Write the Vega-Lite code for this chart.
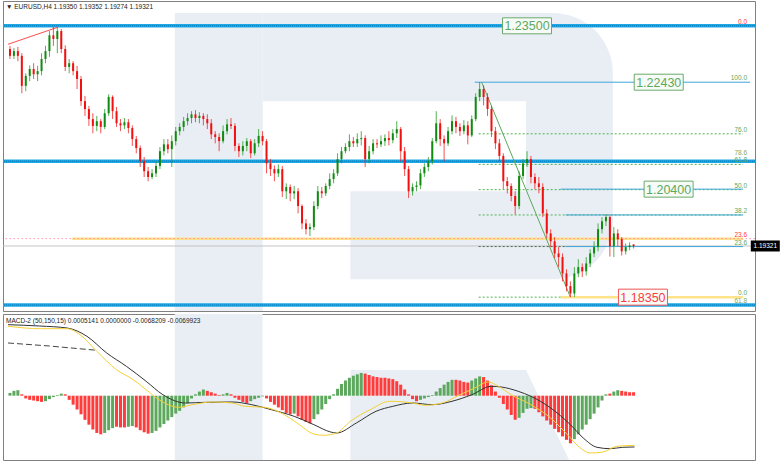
{
"$schema":"https://vega.github.io/schema/vega-lite/v6.json",
"padding":0,
"autosize":{"type":"pad"},
"background":"white",
"spacing":1,
"config":{"view":{"stroke":"#808080","strokeWidth":1},"font":"Liberation Sans","axis":{"labelFont":"Liberation Sans","labelFontSize":6.5,"labelColor":"#222","tickColor":"#808080","domainColor":"#808080","grid":false,"title":null}},
"datasets":{
"candles":[
{"t":0,"o":1.2306,"h":1.2312,"l":1.2287,"c":1.2293},
{"t":2,"o":1.2293,"h":1.2308,"l":1.2287,"c":1.2302},
{"t":4,"o":1.2302,"h":1.2310,"l":1.2283,"c":1.2293},
{"t":6,"o":1.2293,"h":1.2298,"l":1.2222,"c":1.2236},
{"t":8,"o":1.2236,"h":1.2260,"l":1.2226,"c":1.2255},
{"t":10,"o":1.2255,"h":1.2275,"l":1.2245,"c":1.2268},
{"t":12,"o":1.2268,"h":1.2279,"l":1.2249,"c":1.2258},
{"t":14,"o":1.2258,"h":1.2274,"l":1.2245,"c":1.2264},
{"t":16,"o":1.2264,"h":1.2298,"l":1.2256,"c":1.2287},
{"t":18,"o":1.2287,"h":1.2312,"l":1.2279,"c":1.2302},
{"t":20,"o":1.2302,"h":1.2340,"l":1.2291,"c":1.2332},
{"t":22,"o":1.2332,"h":1.2348,"l":1.2312,"c":1.2325},
{"t":24,"o":1.2325,"h":1.2348,"l":1.2298,"c":1.2340},
{"t":26,"o":1.2340,"h":1.2344,"l":1.2298,"c":1.2306},
{"t":28,"o":1.2306,"h":1.2313,"l":1.2264,"c":1.2272},
{"t":30,"o":1.2272,"h":1.2287,"l":1.2260,"c":1.2279},
{"t":32,"o":1.2279,"h":1.2283,"l":1.2256,"c":1.2264},
{"t":34,"o":1.2264,"h":1.2274,"l":1.2230,"c":1.2249},
{"t":36,"o":1.2249,"h":1.2255,"l":1.2198,"c":1.2207},
{"t":38,"o":1.2207,"h":1.2217,"l":1.2179,"c":1.2192},
{"t":40,"o":1.2192,"h":1.2198,"l":1.2160,"c":1.2173},
{"t":42,"o":1.2173,"h":1.2184,"l":1.2146,"c":1.2160},
{"t":44,"o":1.2160,"h":1.2179,"l":1.2150,"c":1.2169},
{"t":46,"o":1.2169,"h":1.2173,"l":1.2146,"c":1.2158},
{"t":48,"o":1.2158,"h":1.2192,"l":1.2154,"c":1.2184},
{"t":50,"o":1.2184,"h":1.2220,"l":1.2179,"c":1.2215},
{"t":52,"o":1.2215,"h":1.2218,"l":1.2173,"c":1.2188},
{"t":54,"o":1.2188,"h":1.2196,"l":1.2158,"c":1.2165},
{"t":56,"o":1.2165,"h":1.2173,"l":1.2150,"c":1.2161},
{"t":58,"o":1.2161,"h":1.2175,"l":1.2154,"c":1.2167},
{"t":60,"o":1.2167,"h":1.2173,"l":1.2146,"c":1.2156},
{"t":62,"o":1.2156,"h":1.2161,"l":1.2122,"c":1.2135},
{"t":64,"o":1.2135,"h":1.2141,"l":1.2108,"c":1.2118},
{"t":66,"o":1.2118,"h":1.2123,"l":1.2082,"c":1.2093},
{"t":68,"o":1.2093,"h":1.2101,"l":1.2063,"c":1.2074},
{"t":70,"o":1.2074,"h":1.2082,"l":1.2055,"c":1.2063},
{"t":72,"o":1.2063,"h":1.2078,"l":1.2059,"c":1.2070},
{"t":74,"o":1.2070,"h":1.2093,"l":1.2063,"c":1.2084},
{"t":76,"o":1.2084,"h":1.2120,"l":1.2078,"c":1.2112},
{"t":78,"o":1.2112,"h":1.2135,"l":1.2104,"c":1.2125},
{"t":80,"o":1.2125,"h":1.2135,"l":1.2108,"c":1.2116},
{"t":82,"o":1.2116,"h":1.2142,"l":1.2082,"c":1.2131},
{"t":84,"o":1.2131,"h":1.2158,"l":1.2123,"c":1.2150},
{"t":86,"o":1.2150,"h":1.2165,"l":1.2142,"c":1.2158},
{"t":88,"o":1.2158,"h":1.2177,"l":1.2150,"c":1.2169},
{"t":90,"o":1.2169,"h":1.2184,"l":1.2161,"c":1.2175},
{"t":92,"o":1.2175,"h":1.2188,"l":1.2165,"c":1.2182},
{"t":94,"o":1.2182,"h":1.2190,"l":1.2167,"c":1.2175},
{"t":96,"o":1.2175,"h":1.2186,"l":1.2165,"c":1.2179},
{"t":98,"o":1.2179,"h":1.2184,"l":1.2161,"c":1.2173},
{"t":100,"o":1.2173,"h":1.2182,"l":1.2154,"c":1.2165},
{"t":102,"o":1.2165,"h":1.2173,"l":1.2135,"c":1.2144},
{"t":104,"o":1.2144,"h":1.2150,"l":1.2127,"c":1.2139},
{"t":106,"o":1.2139,"h":1.2146,"l":1.2112,"c":1.2131},
{"t":108,"o":1.2131,"h":1.2161,"l":1.2127,"c":1.2150},
{"t":110,"o":1.2150,"h":1.2173,"l":1.2144,"c":1.2163},
{"t":112,"o":1.2163,"h":1.2175,"l":1.2154,"c":1.2160},
{"t":114,"o":1.2160,"h":1.2165,"l":1.2112,"c":1.2122},
{"t":116,"o":1.2122,"h":1.2127,"l":1.2101,"c":1.2112},
{"t":118,"o":1.2112,"h":1.2131,"l":1.2104,"c":1.2122},
{"t":120,"o":1.2122,"h":1.2137,"l":1.2112,"c":1.2131},
{"t":122,"o":1.2131,"h":1.2135,"l":1.2099,"c":1.2108},
{"t":124,"o":1.2108,"h":1.2135,"l":1.2104,"c":1.2127},
{"t":126,"o":1.2127,"h":1.2154,"l":1.2120,"c":1.2141},
{"t":128,"o":1.2141,"h":1.2150,"l":1.2123,"c":1.2131},
{"t":130,"o":1.2131,"h":1.2135,"l":1.2070,"c":1.2089},
{"t":132,"o":1.2089,"h":1.2097,"l":1.2065,"c":1.2078},
{"t":134,"o":1.2078,"h":1.2085,"l":1.2055,"c":1.2070},
{"t":136,"o":1.2070,"h":1.2087,"l":1.2063,"c":1.2078},
{"t":138,"o":1.2078,"h":1.2084,"l":1.2025,"c":1.2036},
{"t":140,"o":1.2036,"h":1.2051,"l":1.2021,"c":1.2044},
{"t":142,"o":1.2044,"h":1.2049,"l":1.2017,"c":1.2032},
{"t":144,"o":1.2032,"h":1.2046,"l":1.2021,"c":1.2036},
{"t":146,"o":1.2036,"h":1.2042,"l":1.1994,"c":1.2008},
{"t":148,"o":1.2008,"h":1.2011,"l":1.1964,"c":1.1975},
{"t":150,"o":1.1975,"h":1.1983,"l":1.1954,"c":1.1964},
{"t":152,"o":1.1964,"h":1.1975,"l":1.1951,"c":1.1968},
{"t":154,"o":1.1968,"h":1.2017,"l":1.1962,"c":1.2008},
{"t":156,"o":1.2008,"h":1.2046,"l":1.2002,"c":1.2036},
{"t":158,"o":1.2036,"h":1.2044,"l":1.2023,"c":1.2032},
{"t":160,"o":1.2032,"h":1.2051,"l":1.2027,"c":1.2046},
{"t":162,"o":1.2046,"h":1.2070,"l":1.2040,"c":1.2059},
{"t":164,"o":1.2059,"h":1.2078,"l":1.2051,"c":1.2070},
{"t":166,"o":1.2070,"h":1.2108,"l":1.2065,"c":1.2097},
{"t":168,"o":1.2097,"h":1.2120,"l":1.2089,"c":1.2112},
{"t":170,"o":1.2112,"h":1.2127,"l":1.2108,"c":1.2120},
{"t":172,"o":1.2120,"h":1.2144,"l":1.2112,"c":1.2131},
{"t":174,"o":1.2131,"h":1.2139,"l":1.2120,"c":1.2127},
{"t":176,"o":1.2127,"h":1.2146,"l":1.2120,"c":1.2135},
{"t":178,"o":1.2135,"h":1.2150,"l":1.2123,"c":1.2137},
{"t":180,"o":1.2137,"h":1.2142,"l":1.2082,"c":1.2097},
{"t":182,"o":1.2097,"h":1.2122,"l":1.2089,"c":1.2112},
{"t":184,"o":1.2112,"h":1.2135,"l":1.2106,"c":1.2127},
{"t":186,"o":1.2127,"h":1.2135,"l":1.2118,"c":1.2125},
{"t":188,"o":1.2125,"h":1.2142,"l":1.2120,"c":1.2131},
{"t":190,"o":1.2131,"h":1.2144,"l":1.2122,"c":1.2137},
{"t":192,"o":1.2137,"h":1.2150,"l":1.2123,"c":1.2133},
{"t":194,"o":1.2133,"h":1.2154,"l":1.2127,"c":1.2146},
{"t":196,"o":1.2146,"h":1.2169,"l":1.2137,"c":1.2154},
{"t":198,"o":1.2154,"h":1.2158,"l":1.2093,"c":1.2112},
{"t":200,"o":1.2112,"h":1.2120,"l":1.2065,"c":1.2078},
{"t":202,"o":1.2078,"h":1.2084,"l":1.2023,"c":1.2036},
{"t":204,"o":1.2036,"h":1.2051,"l":1.2028,"c":1.2044},
{"t":206,"o":1.2044,"h":1.2055,"l":1.2036,"c":1.2047},
{"t":208,"o":1.2047,"h":1.2078,"l":1.2040,"c":1.2070},
{"t":210,"o":1.2070,"h":1.2089,"l":1.2063,"c":1.2082},
{"t":212,"o":1.2082,"h":1.2101,"l":1.2074,"c":1.2093},
{"t":214,"o":1.2093,"h":1.2137,"l":1.2087,"c":1.2131},
{"t":216,"o":1.2131,"h":1.2188,"l":1.2127,"c":1.2165},
{"t":218,"o":1.2165,"h":1.2173,"l":1.2122,"c":1.2135},
{"t":220,"o":1.2135,"h":1.2142,"l":1.2093,"c":1.2127},
{"t":222,"o":1.2127,"h":1.2158,"l":1.2122,"c":1.2150},
{"t":224,"o":1.2150,"h":1.2180,"l":1.2144,"c":1.2169},
{"t":226,"o":1.2169,"h":1.2177,"l":1.2146,"c":1.2158},
{"t":228,"o":1.2158,"h":1.2165,"l":1.2141,"c":1.2150},
{"t":230,"o":1.2150,"h":1.2171,"l":1.2144,"c":1.2161},
{"t":232,"o":1.2161,"h":1.2169,"l":1.2125,"c":1.2142},
{"t":234,"o":1.2142,"h":1.2180,"l":1.2139,"c":1.2173},
{"t":236,"o":1.2173,"h":1.2222,"l":1.2169,"c":1.2215},
{"t":238,"o":1.2215,"h":1.2243,"l":1.2207,"c":1.2230},
{"t":240,"o":1.2230,"h":1.2237,"l":1.2199,"c":1.2215},
{"t":242,"o":1.2215,"h":1.2222,"l":1.2179,"c":1.2192},
{"t":244,"o":1.2192,"h":1.2198,"l":1.2139,"c":1.2150},
{"t":246,"o":1.2150,"h":1.2158,"l":1.2116,"c":1.2127},
{"t":248,"o":1.2127,"h":1.2135,"l":1.2093,"c":1.2103},
{"t":250,"o":1.2103,"h":1.2108,"l":1.2040,"c":1.2055},
{"t":252,"o":1.2055,"h":1.2063,"l":1.2032,"c":1.2046},
{"t":254,"o":1.2046,"h":1.2051,"l":1.2017,"c":1.2027},
{"t":256,"o":1.2027,"h":1.2036,"l":1.1992,"c":1.2008},
{"t":258,"o":1.2008,"h":1.2074,"l":1.2002,"c":1.2065},
{"t":260,"o":1.2065,"h":1.2097,"l":1.2059,"c":1.2089},
{"t":262,"o":1.2089,"h":1.2112,"l":1.2082,"c":1.2097},
{"t":264,"o":1.2097,"h":1.2103,"l":1.2051,"c":1.2063},
{"t":266,"o":1.2063,"h":1.2070,"l":1.2040,"c":1.2051},
{"t":268,"o":1.2051,"h":1.2063,"l":1.2032,"c":1.2044},
{"t":270,"o":1.2044,"h":1.2051,"l":1.1987,"c":1.1994},
{"t":272,"o":1.1994,"h":1.2002,"l":1.1947,"c":1.1956},
{"t":274,"o":1.1956,"h":1.1964,"l":1.1930,"c":1.1941},
{"t":276,"o":1.1941,"h":1.1949,"l":1.1909,"c":1.1918},
{"t":278,"o":1.1918,"h":1.1930,"l":1.1892,"c":1.1911},
{"t":280,"o":1.1911,"h":1.1918,"l":1.1865,"c":1.1880},
{"t":282,"o":1.1880,"h":1.1888,"l":1.1846,"c":1.1856},
{"t":284,"o":1.1856,"h":1.1865,"l":1.1835,"c":1.1842},
{"t":286,"o":1.1842,"h":1.1892,"l":1.1835,"c":1.1880},
{"t":288,"o":1.1880,"h":1.1907,"l":1.1873,"c":1.1892},
{"t":290,"o":1.1892,"h":1.1899,"l":1.1873,"c":1.1884},
{"t":292,"o":1.1884,"h":1.1911,"l":1.1876,"c":1.1899},
{"t":294,"o":1.1899,"h":1.1926,"l":1.1892,"c":1.1918},
{"t":296,"o":1.1918,"h":1.1941,"l":1.1911,"c":1.1930},
{"t":298,"o":1.1930,"h":1.1975,"l":1.1922,"c":1.1964},
{"t":300,"o":1.1964,"h":1.1987,"l":1.1956,"c":1.1979},
{"t":302,"o":1.1979,"h":1.1992,"l":1.1970,"c":1.1987},
{"t":304,"o":1.1987,"h":1.1990,"l":1.1912,"c":1.1932},
{"t":306,"o":1.1932,"h":1.1968,"l":1.1911,"c":1.1956},
{"t":308,"o":1.1956,"h":1.1964,"l":1.1932,"c":1.1945},
{"t":310,"o":1.1945,"h":1.1949,"l":1.1914,"c":1.1922},
{"t":312,"o":1.1922,"h":1.1937,"l":1.1916,"c":1.1930},
{"t":314,"o":1.1930,"h":1.1939,"l":1.1924,"c":1.1933},
{"t":316,"o":1.1935,"h":1.19352,"l":1.19274,"c":1.19321}
],
"hist":[
{"t":0,"v":0.0004,"k":"g"},{"t":2,"v":0.0007,"k":"g"},{"t":4,"v":0.0008,"k":"g"},{"t":6,"v":0.0002,"k":"r"},{"t":8,"v":-0.0004,"k":"r"},{"t":10,"v":-0.0006,"k":"r"},{"t":12,"v":-0.0007,"k":"r"},{"t":14,"v":-0.0008,"k":"r"},{"t":16,"v":-0.0009,"k":"r"},{"t":18,"v":-0.0008,"k":"g"},
{"t":20,"v":-0.0005,"k":"g"},{"t":22,"v":-0.0002,"k":"g"},{"t":24,"v":0.0001,"k":"g"},{"t":26,"v":0.0003,"k":"g"},{"t":28,"v":0.0002,"k":"r"},{"t":30,"v":-0.0006,"k":"r"},{"t":32,"v":-0.0013,"k":"r"},{"t":34,"v":-0.0020,"k":"r"},{"t":36,"v":-0.0027,"k":"r"},{"t":38,"v":-0.0035,"k":"r"},
{"t":40,"v":-0.0042,"k":"r"},{"t":42,"v":-0.0049,"k":"r"},{"t":44,"v":-0.0054,"k":"r"},{"t":46,"v":-0.0056,"k":"r"},{"t":48,"v":-0.0054,"k":"g"},{"t":50,"v":-0.0050,"k":"g"},{"t":52,"v":-0.0047,"k":"g"},{"t":54,"v":-0.0045,"k":"r"},{"t":56,"v":-0.0046,"k":"r"},{"t":58,"v":-0.0046,"k":"r"},
{"t":60,"v":-0.0045,"k":"g"},{"t":62,"v":-0.0044,"k":"g"},{"t":64,"v":-0.0046,"k":"r"},{"t":66,"v":-0.0050,"k":"r"},{"t":68,"v":-0.0053,"k":"r"},{"t":70,"v":-0.0055,"k":"r"},{"t":72,"v":-0.0054,"k":"g"},{"t":74,"v":-0.0051,"k":"g"},{"t":76,"v":-0.0046,"k":"g"},{"t":78,"v":-0.0041,"k":"g"},
{"t":80,"v":-0.0036,"k":"g"},{"t":82,"v":-0.0031,"k":"g"},{"t":84,"v":-0.0026,"k":"g"},{"t":86,"v":-0.0022,"k":"g"},{"t":88,"v":-0.0017,"k":"g"},{"t":90,"v":-0.0011,"k":"g"},{"t":92,"v":-0.0004,"k":"g"},{"t":94,"v":0.0002,"k":"g"},{"t":96,"v":0.0006,"k":"g"},{"t":98,"v":0.0009,"k":"g"},
{"t":100,"v":0.0007,"k":"r"},{"t":102,"v":0.0005,"k":"r"},{"t":104,"v":0.0003,"k":"r"},{"t":106,"v":0.0001,"k":"r"},{"t":108,"v":0.0002,"k":"g"},{"t":110,"v":0.0004,"k":"g"},{"t":112,"v":0.0002,"k":"r"},{"t":114,"v":-0.0003,"k":"r"},{"t":116,"v":-0.0006,"k":"r"},{"t":118,"v":-0.0009,"k":"r"},
{"t":120,"v":-0.0011,"k":"r"},{"t":122,"v":-0.0008,"k":"g"},{"t":124,"v":-0.0005,"k":"g"},{"t":126,"v":-0.0003,"k":"g"},{"t":128,"v":-0.0001,"k":"g"},{"t":130,"v":-0.0004,"k":"r"},{"t":132,"v":-0.0009,"k":"r"},{"t":134,"v":-0.0013,"k":"r"},{"t":136,"v":-0.0017,"k":"r"},{"t":138,"v":-0.0021,"k":"r"},
{"t":140,"v":-0.0025,"k":"r"},{"t":142,"v":-0.0027,"k":"r"},{"t":144,"v":-0.0026,"k":"g"},{"t":146,"v":-0.0030,"k":"r"},{"t":148,"v":-0.0035,"k":"r"},{"t":150,"v":-0.0038,"k":"r"},{"t":152,"v":-0.0040,"k":"r"},{"t":154,"v":-0.0034,"k":"g"},{"t":156,"v":-0.0027,"k":"g"},{"t":158,"v":-0.0020,"k":"g"},
{"t":160,"v":-0.0012,"k":"g"},{"t":162,"v":-0.0005,"k":"g"},{"t":164,"v":0.0002,"k":"g"},{"t":166,"v":0.0010,"k":"g"},{"t":168,"v":0.0017,"k":"g"},{"t":170,"v":0.0022,"k":"g"},{"t":172,"v":0.0026,"k":"g"},{"t":174,"v":0.0029,"k":"g"},{"t":176,"v":0.0031,"k":"g"},{"t":178,"v":0.0033,"k":"g"},
{"t":180,"v":0.0032,"k":"r"},{"t":182,"v":0.0030,"k":"r"},{"t":184,"v":0.0028,"k":"r"},{"t":186,"v":0.0027,"k":"r"},{"t":188,"v":0.0026,"k":"r"},{"t":190,"v":0.0026,"k":"r"},{"t":192,"v":0.0025,"k":"r"},{"t":194,"v":0.0024,"k":"r"},{"t":196,"v":0.0021,"k":"r"},{"t":198,"v":0.0016,"k":"r"},
{"t":200,"v":0.0009,"k":"r"},{"t":202,"v":0.0002,"k":"r"},{"t":204,"v":-0.0005,"k":"r"},{"t":206,"v":-0.0008,"k":"r"},{"t":208,"v":-0.0006,"k":"g"},{"t":210,"v":-0.0004,"k":"g"},{"t":212,"v":-0.0002,"k":"g"},{"t":214,"v":0.0001,"k":"g"},{"t":216,"v":0.0006,"k":"g"},{"t":218,"v":0.0011,"k":"g"},
{"t":220,"v":0.0016,"k":"g"},{"t":222,"v":0.0020,"k":"g"},{"t":224,"v":0.0023,"k":"g"},{"t":226,"v":0.0023,"k":"r"},{"t":228,"v":0.0022,"k":"r"},{"t":230,"v":0.0020,"k":"r"},{"t":232,"v":0.0019,"k":"r"},{"t":234,"v":0.0022,"k":"g"},{"t":236,"v":0.0025,"k":"g"},{"t":238,"v":0.0028,"k":"g"},
{"t":240,"v":0.0027,"k":"r"},{"t":242,"v":0.0022,"k":"r"},{"t":244,"v":0.0015,"k":"r"},{"t":246,"v":0.0006,"k":"r"},{"t":248,"v":-0.0003,"k":"r"},{"t":250,"v":-0.0012,"k":"r"},{"t":252,"v":-0.0020,"k":"r"},{"t":254,"v":-0.0028,"k":"r"},{"t":256,"v":-0.0035,"k":"r"},{"t":258,"v":-0.0032,"k":"g"},
{"t":260,"v":-0.0025,"k":"g"},{"t":262,"v":-0.0019,"k":"g"},{"t":264,"v":-0.0018,"k":"g"},{"t":266,"v":-0.0019,"k":"r"},{"t":268,"v":-0.0024,"k":"r"},{"t":270,"v":-0.0030,"k":"r"},{"t":272,"v":-0.0036,"k":"r"},{"t":274,"v":-0.0042,"k":"r"},{"t":276,"v":-0.0048,"k":"r"},{"t":278,"v":-0.0053,"k":"r"},
{"t":280,"v":-0.0059,"k":"r"},{"t":282,"v":-0.0064,"k":"r"},{"t":284,"v":-0.0069,"k":"r"},{"t":286,"v":-0.0063,"k":"g"},{"t":288,"v":-0.0056,"k":"g"},{"t":290,"v":-0.0049,"k":"g"},{"t":292,"v":-0.0042,"k":"g"},{"t":294,"v":-0.0034,"k":"g"},{"t":296,"v":-0.0026,"k":"g"},{"t":298,"v":-0.0017,"k":"g"},
{"t":300,"v":-0.0007,"k":"g"},{"t":302,"v":0.0002,"k":"g"},{"t":304,"v":0.0003,"k":"r"},{"t":306,"v":0.0006,"k":"g"},{"t":308,"v":0.0008,"k":"g"},{"t":310,"v":0.0007,"k":"r"},{"t":312,"v":0.0006,"k":"r"},{"t":314,"v":0.0005,"k":"r"},{"t":316,"v":0.0005,"k":"r"}
],
"macd":[
{"t":-1,"v":0.01029},{"t":15,"v":0.0101},{"t":29,"v":0.00981},{"t":39,"v":0.00861},{"t":49,"v":0.00619},{"t":59,"v":0.00426},{"t":69,"v":0.00209},{"t":77.5,"v":0.00014},{"t":89,"v":-0.00106},{"t":99,"v":-0.00096},{"t":112.5,"v":-0.00091},{"t":122.5,"v":-0.0013},{"t":132.5,"v":-0.00203},{"t":144,"v":-0.00299},{"t":154,"v":-0.0042},{"t":162.5,"v":-0.00526},{"t":165.5,"v":-0.00541},{"t":175.5,"v":-0.00396},{"t":185.5,"v":-0.00226},{"t":194,"v":-0.00154},{"t":204,"v":-0.00106},{"t":214,"v":-0.0013},{"t":224,"v":-0.00081},{"t":234,"v":0.00014},{"t":244,"v":0.00136},{"t":249,"v":0.00126},{"t":257.5,"v":0.00064},{"t":264,"v":-0.00009},{"t":274,"v":-0.00178},{"t":284,"v":-0.0042},{"t":290.5,"v":-0.00613},{"t":297.5,"v":-0.00748},{"t":304,"v":-0.00768},{"t":310.5,"v":-0.00748},{"t":316.5,"v":-0.00743}
],
"signal":[
{"t":-1,"v":0.01006},{"t":15.5,"v":0.00971},{"t":29,"v":0.00971},{"t":35.5,"v":0.00884},{"t":44,"v":0.00643},{"t":54,"v":0.00377},{"t":62.5,"v":0.00232},{"t":69,"v":0.00087},{"t":75.5,"v":-0.00058},{"t":85.5,"v":-0.00168},{"t":92.5,"v":-0.0013},{"t":102.5,"v":-0.00091},{"t":112.5,"v":-0.00106},{"t":119,"v":-0.00154},{"t":129,"v":-0.00168},{"t":139,"v":-0.00275},{"t":145.5,"v":-0.00396},{"t":154,"v":-0.00555},{"t":159,"v":-0.00574},{"t":165.5,"v":-0.00541},{"t":172.5,"v":-0.00371},{"t":182.5,"v":-0.00203},{"t":192.5,"v":-0.00081},{"t":204,"v":-0.00106},{"t":210.5,"v":-0.00139},{"t":219,"v":-0.00106},{"t":227.5,"v":0.00006},{"t":235.5,"v":0.00112},{"t":242.5,"v":0.00199},{"t":247.5,"v":0.00136},{"t":254,"v":0.00014},{"t":264,"v":-0.0013},{"t":274,"v":-0.00323},{"t":282.5,"v":-0.00565},{"t":289,"v":-0.00758},{"t":294,"v":-0.0083},{"t":300.5,"v":-0.00816},{"t":307.5,"v":-0.00733},{"t":316.5,"v":-0.00719}
],
"dashed":[{"t":-1,"v":0.00764},{"t":20,"v":0.0072},{"t":44,"v":0.00658}]
},
"vconcat":[
{
"width":752,"height":310,
"title":{"text":"▼ EURUSD,H4  1.19350 1.19352 1.19274 1.19321","anchor":"start","frame":"group","offset":-9,"dx":3,"fontSize":6.5,"fontWeight":"normal","font":"Liberation Sans","color":"#222"},
"layer":[
{"data":{"values":[{"t":128,"t2":305.5,"p":1.23742,"p2":1.18688}]},
 "mark":{"type":"rect","fill":"#e9eef5","cornerRadiusTopRight":60,"cornerRadiusBottomRight":60},
 "encoding":{"x":{"field":"t","type":"quantitative","scale":{"domain":[-1,375],"nice":false,"zero":false},"axis":null},"x2":{"field":"t2"},
 "y":{"field":"p","type":"quantitative","scale":{"domain":[1.18087,1.23971],"nice":false,"zero":false},"axis":null},"y2":{"field":"p2"}}},
{"data":{"values":[{"t":128,"t2":261.5,"p":1.2207,"p2":1.2036},{"t":128,"t2":172.5,"p":1.2037,"p2":1.1860}]},
 "mark":{"type":"rect","fill":"white"},
 "encoding":{"x":{"field":"t","type":"quantitative","scale":{"domain":[-1,375],"nice":false,"zero":false},"axis":null},"x2":{"field":"t2"},
 "y":{"field":"p","type":"quantitative","scale":{"domain":[1.18087,1.23971],"nice":false,"zero":false},"axis":null},"y2":{"field":"p2"}}},
{"data":{"values":[{"t":83.5,"t2":128,"p":1.23742,"p2":1.1800}]},
 "mark":{"type":"rect","fill":"#e9eef5","clip":true},
 "encoding":{"x":{"field":"t","type":"quantitative","scale":{"domain":[-1,375],"nice":false,"zero":false},"axis":null},"x2":{"field":"t2"},
 "y":{"field":"p","type":"quantitative","scale":{"domain":[1.18087,1.23971],"nice":false,"zero":false},"axis":null},"y2":{"field":"p2"}}},
{"data":{"values":[{"p":1.235},{"p":1.2093},{"p":1.1820}]},
 "mark":{"type":"rule","stroke":"#1aa9e6","strokeWidth":3.5},
 "encoding":{"y":{"field":"p","type":"quantitative","scale":{"domain":[1.18087,1.23971],"nice":false,"zero":false},"axis":null}}},
{"data":{"values":[{"p":1.235},{"p":1.2093},{"p":1.1820}]},
 "mark":{"type":"rule","stroke":"#0b78b8","strokeWidth":1,"strokeDash":[1,1]},
 "encoding":{"y":{"field":"p","type":"quantitative","scale":{"domain":[1.18087,1.23971],"nice":false,"zero":false},"axis":null}}},
{"data":{"values":[{"p":1.19321}]},
 "mark":{"type":"rule","stroke":"#c4c4c4","strokeWidth":1},
 "encoding":{"y":{"field":"p","type":"quantitative","scale":{"domain":[1.18087,1.23971],"nice":false,"zero":false},"axis":null}}},
{"data":{"values":[{"p":1.1946,"t":31.5,"t2":371.5},{"p":1.1835,"t":279,"t2":371.5}]},
 "mark":{"type":"rule","stroke":"#ffe38a","strokeWidth":2.5},
 "encoding":{"x":{"field":"t","type":"quantitative","scale":{"domain":[-1,375],"nice":false,"zero":false},"axis":null},"x2":{"field":"t2"},
 "y":{"field":"p","type":"quantitative","scale":{"domain":[1.18087,1.23971],"nice":false,"zero":false},"axis":null}}},
{"data":{"values":[{"p":1.1946}]},
 "mark":{"type":"rule","stroke":"#ff7a9a","strokeWidth":1,"strokeDash":[1.5,2.5],"opacity":0.8},
 "encoding":{"y":{"field":"p","type":"quantitative","scale":{"domain":[1.18087,1.23971],"nice":false,"zero":false},"axis":null}}},
{"data":{"values":[{"p":1.2145,"t":237.5,"t2":371.5},{"p":1.2087,"t":237.5,"t2":371.5},{"p":1.2039,"t":237.5,"t2":371.5},{"p":1.1991,"t":237.5,"t2":371.5},{"p":1.1835,"t":237.5,"t2":279}]},
 "mark":{"type":"rule","stroke":"#4fb04f","strokeWidth":1,"strokeDash":[2,2]},
 "encoding":{"x":{"field":"t","type":"quantitative","scale":{"domain":[-1,375],"nice":false,"zero":false},"axis":null},"x2":{"field":"t2"},
 "y":{"field":"p","type":"quantitative","scale":{"domain":[1.18087,1.23971],"nice":false,"zero":false},"axis":null}}},
{"data":{"values":[{"p":1.1931,"t":237.5,"t2":281.5}]},
 "mark":{"type":"rule","stroke":"#4a6a4a","strokeWidth":1,"strokeDash":[2,2]},
 "encoding":{"x":{"field":"t","type":"quantitative","scale":{"domain":[-1,375],"nice":false,"zero":false},"axis":null},"x2":{"field":"t2"},
 "y":{"field":"p","type":"quantitative","scale":{"domain":[1.18087,1.23971],"nice":false,"zero":false},"axis":null}}},
{"data":{"values":[{"p":1.2243,"t":235.5,"t2":375},{"p":1.2040,"t":279,"t2":371.5},{"p":1.1991,"t":281.5,"t2":371.5},{"p":1.1931,"t":281.5,"t2":371.5}]},
 "mark":{"type":"rule","stroke":"#3ea6d8","strokeWidth":1},
 "encoding":{"x":{"field":"t","type":"quantitative","scale":{"domain":[-1,375],"nice":false,"zero":false},"axis":null},"x2":{"field":"t2"},
 "y":{"field":"p","type":"quantitative","scale":{"domain":[1.18087,1.23971],"nice":false,"zero":false},"axis":null}}},
{"data":{"values":[{"t":-1,"p":1.2315},{"t":24,"p":1.2347}]},
 "mark":{"type":"line","stroke":"#ff4d4d","strokeWidth":1},
 "encoding":{"x":{"field":"t","type":"quantitative","scale":{"domain":[-1,375],"nice":false,"zero":false},"axis":null},
 "y":{"field":"p","type":"quantitative","scale":{"domain":[1.18087,1.23971],"nice":false,"zero":false},"axis":null}}},
{"data":{"values":[{"t":239,"p":1.2243},{"t":284,"p":1.1835}]},
 "mark":{"type":"line","stroke":"#5aa85a","strokeWidth":1},
 "encoding":{"x":{"field":"t","type":"quantitative","scale":{"domain":[-1,375],"nice":false,"zero":false},"axis":null},
 "y":{"field":"p","type":"quantitative","scale":{"domain":[1.18087,1.23971],"nice":false,"zero":false},"axis":null}}},
{"data":{"name":"candles"},
 "mark":{"type":"rule","strokeWidth":1,"opacity":0.75},
 "encoding":{"x":{"field":"t","type":"quantitative","scale":{"domain":[-1,375],"nice":false,"zero":false},"axis":null},
 "y":{"field":"l","type":"quantitative","scale":{"domain":[1.18087,1.23971],"nice":false,"zero":false},
  "axis":{"orient":"right","values":[1.238,1.23335,1.2287,1.22405,1.2194,1.2147,1.21005,1.2054,1.20075,1.1961,1.19145,1.1868,1.18215],"format":".5f","tickSize":3,"labelPadding":2,"labelFontSize":6.5}},
 "y2":{"field":"h"},
 "color":{"condition":{"test":"datum.c >= datum.o","value":"#1a9a1a"},"value":"#f01a1a"}}},
{"data":{"name":"candles"},
 "mark":{"type":"bar","width":2},
 "encoding":{"x":{"field":"t","type":"quantitative","scale":{"domain":[-1,375],"nice":false,"zero":false},"axis":null},
 "y":{"field":"o","type":"quantitative","scale":{"domain":[1.18087,1.23971],"nice":false,"zero":false},"axis":null},
 "y2":{"field":"c"},
 "color":{"condition":{"test":"datum.c >= datum.o","value":"#118a11"},"value":"#f01010"}}},
{"data":{"values":[{"p":1.2243,"label":"100.0","k":"g"},{"p":1.2145,"label":"76.0","k":"g"},{"p":1.2087,"label":"61.8","k":"g"},{"p":1.2039,"label":"50.0","k":"g"},{"p":1.1991,"label":"38.2","k":"g"},{"p":1.1931,"label":"23.6","k":"g"},{"p":1.1835,"label":"0.0","k":"g"},{"p":1.235,"label":"0.0","k":"r"},{"p":1.1946,"label":"23.6","k":"r"},{"p":1.1820,"label":"61.8","k":"o"}]},
 "mark":{"type":"text","align":"right","baseline":"bottom","dy":-1,"fontSize":6.5},
 "encoding":{"x":{"datum":373.5,"type":"quantitative","scale":{"domain":[-1,375],"nice":false,"zero":false},"axis":null},
 "y":{"field":"p","type":"quantitative","scale":{"domain":[1.18087,1.23971],"nice":false,"zero":false},"axis":null},
 "text":{"field":"label"},
 "color":{"field":"k","type":"nominal","scale":{"domain":["g","r","o"],"range":["#5ea85e","#ff3b3b","#8aa860"]},"legend":null}}},
{"data":{"values":[{"p":1.2093,"label":"78.6"}]},
 "mark":{"type":"text","align":"right","baseline":"bottom","dy":-5,"fontSize":6.5,"fill":"#8aa860"},
 "encoding":{"x":{"datum":373.5,"type":"quantitative","scale":{"domain":[-1,375],"nice":false,"zero":false},"axis":null},
 "y":{"field":"p","type":"quantitative","scale":{"domain":[1.18087,1.23971],"nice":false,"zero":false},"axis":null},
 "text":{"field":"label"}}},
{"data":{"values":[{"t":262,"p":1.235,"label":"1.23500","k":"g"},{"t":328.75,"p":1.2243,"label":"1.22430","k":"g"},{"t":333.75,"p":1.2040,"label":"1.20400","k":"g"},{"t":320.75,"p":1.1835,"label":"1.18350","k":"r"}]},
 "layer":[
  {"mark":{"type":"rect","width":49,"height":16,"fill":"#f7fbf7","strokeWidth":1},
   "encoding":{"x":{"field":"t","type":"quantitative","scale":{"domain":[-1,375],"nice":false,"zero":false},"axis":null},
   "y":{"field":"p","type":"quantitative","scale":{"domain":[1.18087,1.23971],"nice":false,"zero":false},"axis":null},
   "stroke":{"field":"k","type":"nominal","scale":{"domain":["g","r"],"range":["#6aaa6a","#ee5555"]},"legend":null}}},
  {"mark":{"type":"text","align":"center","baseline":"middle","fontSize":12.5,"font":"Liberation Sans","dy":0.5},
   "encoding":{"x":{"field":"t","type":"quantitative","scale":{"domain":[-1,375],"nice":false,"zero":false},"axis":null},
   "y":{"field":"p","type":"quantitative","scale":{"domain":[1.18087,1.23971],"nice":false,"zero":false},"axis":null},
   "text":{"field":"label"},
   "color":{"field":"k","type":"nominal","scale":{"domain":["g","r"],"range":["#1e8c1e","#e81414"]},"legend":null}}}
 ]},
{"data":{"values":[{"t":382.75,"p":1.19321,"label":"1.19321"}]},
 "layer":[
  {"mark":{"type":"rect","width":29,"height":11,"fill":"black"},
   "encoding":{"x":{"field":"t","type":"quantitative","scale":{"domain":[-1,375],"nice":false,"zero":false},"axis":null},
   "y":{"field":"p","type":"quantitative","scale":{"domain":[1.18087,1.23971],"nice":false,"zero":false},"axis":null}}},
  {"mark":{"type":"text","align":"center","baseline":"middle","fontSize":6.5,"fill":"white"},
   "encoding":{"x":{"field":"t","type":"quantitative","scale":{"domain":[-1,375],"nice":false,"zero":false},"axis":null},
   "y":{"field":"p","type":"quantitative","scale":{"domain":[1.18087,1.23971],"nice":false,"zero":false},"axis":null},
   "text":{"field":"label"}}}
 ]}
]
},
{
"width":752,"height":146,
"title":{"text":"MACD-2 (50,150,15) 0.0005141 0.0000000 -0.0068209 -0.0069923","anchor":"start","frame":"group","offset":-10,"dx":3,"fontSize":6.5,"fontWeight":"normal","font":"Liberation Sans","color":"#222"},
"layer":[
{"data":{"values":[{"t":83.5,"t2":128,"v":0.0125,"v2":-0.0100}]},
 "mark":{"type":"rect","fill":"#e9eef5","clip":true},
 "encoding":{"x":{"field":"t","type":"quantitative","scale":{"domain":[-1,375],"nice":false,"zero":false},"axis":null},"x2":{"field":"t2"},
 "y":{"field":"v","type":"quantitative","scale":{"domain":[-0.00932,0.01184],"nice":false,"zero":false},"axis":null},"y2":{"field":"v2"}}},
{"data":{"values":[{"t":172.5,"v":0.00372,"v2":-0.0100},{"t":261.5,"v":0.00372,"v2":-0.0100},{"t":284.5,"v":-0.0100,"v2":-0.0100}]},
 "mark":{"type":"area","fill":"#e9eef5","clip":true,"interpolate":"linear"},
 "encoding":{"x":{"field":"t","type":"quantitative","scale":{"domain":[-1,375],"nice":false,"zero":false},"axis":null},
 "y":{"field":"v","type":"quantitative","scale":{"domain":[-0.00932,0.01184],"nice":false,"zero":false},"axis":null},"y2":{"field":"v2"}}},
{"data":{"name":"hist"},
 "mark":{"type":"bar","width":3},
 "encoding":{"x":{"field":"t","type":"quantitative","scale":{"domain":[-1,375],"nice":false,"zero":false},
  "axis":{"orient":"bottom","values":[0,24,48,72,96,120,144,168,192,216,240,264,288,312],"labelExpr":"['30 Dec 2020','6 Jan 16:00','12 Jan 16:00','18 Jan 16:00','22 Jan 16:00','28 Jan 16:00','3 Feb 16:00','9 Feb 16:00','15 Feb 16:00','19 Feb 16:00','25 Feb 16:00','3 Mar 16:00','9 Mar 16:00','15 Mar 16:00'][round(datum.value/24)]","labelAlign":"left","labelPadding":1,"tickSize":3,"labelFontSize":6.5,"labelOverlap":false,"labelFlush":false}},
 "y":{"field":"v","type":"quantitative","scale":{"domain":[-0.00932,0.01184],"nice":false,"zero":false},
  "axis":{"orient":"right","values":[0.010703,0,-0.008755],"labelExpr":"datum.value > 0.005 ? '0.010703' : (datum.value < -0.005 ? '-0.008755' : '0.00')","tickSize":3,"labelPadding":2,"labelFontSize":6.5}},
 "y2":{"datum":0},
 "color":{"field":"k","type":"nominal","scale":{"domain":["g","r"],"range":["#35cc35","#ff1a1a"]},"legend":null}}},
{"data":{"name":"dashed"},
 "mark":{"type":"line","stroke":"#444","strokeWidth":1,"strokeDash":[6,3]},
 "encoding":{"x":{"field":"t","type":"quantitative","scale":{"domain":[-1,375],"nice":false,"zero":false},"axis":null},
 "y":{"field":"v","type":"quantitative","scale":{"domain":[-0.00932,0.01184],"nice":false,"zero":false},"axis":null}}},
{"data":{"name":"macd"},
 "mark":{"type":"line","stroke":"#333","strokeWidth":1,"interpolate":"monotone"},
 "encoding":{"x":{"field":"t","type":"quantitative","scale":{"domain":[-1,375],"nice":false,"zero":false},"axis":null},
 "y":{"field":"v","type":"quantitative","scale":{"domain":[-0.00932,0.01184],"nice":false,"zero":false},"axis":null}}},
{"data":{"name":"signal"},
 "mark":{"type":"line","stroke":"#f5d033","strokeWidth":1,"interpolate":"monotone"},
 "encoding":{"x":{"field":"t","type":"quantitative","scale":{"domain":[-1,375],"nice":false,"zero":false},"axis":null},
 "y":{"field":"v","type":"quantitative","scale":{"domain":[-0.00932,0.01184],"nice":false,"zero":false},"axis":null}}}
]
}
]
}
